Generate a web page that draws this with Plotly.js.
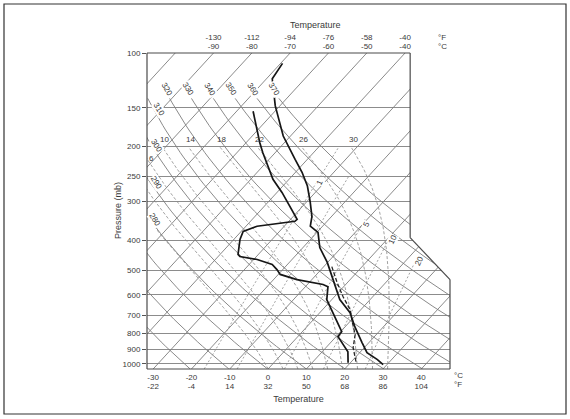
<!DOCTYPE html>
<html>
<head>
<meta charset="utf-8">
<script src="https://cdn.plot.ly/plotly-3.0.1.min.js"></script>
<style>
  html, body { margin: 0; padding: 0; background: #fff; }
  #chart { width: 570px; height: 419px; }
</style>
</head>
<body>
<div id="chart"></div>
<script>
// ---- Diagram reference values ----
const pressureLevels = [100, 150, 200, 250, 300, 400, 500, 600, 700, 800, 900, 1000];
const bottomTempsC = [-30, -20, -10, 0, 10, 20, 30, 40];
const bottomTempsF = ['-22', '-4', '14', '32', '50', '68', '86', '104'];
const topTempsC = [-90, -80, -70, -60, -50, -40];
const topTempsF = ['-130', '-112', '-94', '-76', '-58', '-40'];
const isothermValues = [-130, -120, -110, -100, -90, -80, -70, -60, -50, -40, -30, -20, -10, 0, 10, 20, 30, 40];
const dryAdiabatValues = [250, 260, 270, 280, 290, 300, 310, 320, 330, 340, 350, 360, 370];
const dryAdiabatLabels = [280, 290, 300, 310, 320, 330, 340, 350, 360, 370];
const moistAdiabatValues = [-2, 2, 6, 10, 14, 18, 22, 26, 30];
const moistAdiabatLabels = [6, 10, 14, 18, 22, 26, 30];
const mixingRatioValues = [1, 2, 5, 10, 20];
const mixingRatioLabels = [1, 5, 10, 20];

// ---- Sounding: temperature (°C) against pressure (mb) ----
const tempPressure = [108, 121, 148, 185, 220, 242, 268, 302, 336, 361, 378, 423, 472, 498, 560, 622, 685, 760, 855, 921, 970, 1007];
const tempValues   = [-69.5, -68.5, -61.2, -51.9, -43.2, -38.3, -33.6, -29.0, -25.1, -23.2, -19.7, -15.6, -10.1, -7.7, -2.5, 2.1, 7.9, 12.5, 18.2, 21.9, 26.3, 29.0];

// ---- Sounding: dew point (°C) against pressure (mb) ----
const dewPressure = [154, 176, 194, 209, 232, 255, 281, 314, 343, 348, 361, 375, 398, 445, 452, 462, 479, 498, 516, 536, 556, 565, 622, 685, 789, 818, 915, 993];
const dewValues   = [-65.7, -60.4, -56.5, -53.3, -48.6, -44.2, -38.7, -33.0, -28.3, -28.4, -37.1, -39.5, -38.4, -35.3, -34.3, -29.1, -24.0, -21.5, -19.5, -13.9, -5.9, -4.1, -1.3, 3.4, 10.3, 10.5, 16.7, 19.4];

// ---- Lower-level dashed curve (°C) against pressure (mb) ----
const dashPressure = [487, 548, 608, 670, 732, 806, 888, 985];
const dashValues   = [-7.9, -2.7, 2.2, 7.2, 10.6, 14.5, 17.1, 21.2];

// ---- Skew-T geometry ----
const P_BOTTOM = 1040, P_TOP = 100;
const SKEW = 74.5;                 // isotherm shift (°C) per decade of pressure
const X_MIN = -31.6, X_MAX = 47.5; // skewed axis range at the bottom edge
const NOTCH_X = 37.1, NOTCH_P1 = 393, NOTCH_P2 = 536;

const skewX = (t, p) => t + SKEW * Math.log10(P_BOTTOM / p);
const logRange = (p0, p1, n) => Array.from({length: n + 1}, (_, i) => Math.pow(10, Math.log10(p0) + (Math.log10(p1) - Math.log10(p0)) * i / n));

const RD = 287.04, CP = 1005.7, LV = 2.501e6, EPS = 0.622;
const satVap = tc => 6.112 * Math.exp(17.67 * tc / (tc + 243.5));

function dryAdiabat(theta, pEnd) {
  const ps = logRange(P_BOTTOM, pEnd, 60);
  return {x: ps.map(p => skewX(theta * Math.pow(p / 1000, RD / CP) - 273.15, p)), y: ps};
}

function moistAdiabat(thw, pEnd) {
  const f = (T, p) => {
    const e = satVap(T - 273.15), rs = EPS * e / (p - e);
    return (RD * T + LV * rs) / (CP + LV * LV * rs * EPS / (RD * T * T));
  };
  const run = (p0, T0, p1, n) => {
    let lnp = Math.log(p0), T = T0;
    const h = (Math.log(p1) - lnp) / n, out = [[T, p0]];
    for (let i = 0; i < n; i++) {
      const k1 = f(T, Math.exp(lnp));
      const k2 = f(T + h / 2 * k1, Math.exp(lnp + h / 2));
      const k3 = f(T + h / 2 * k2, Math.exp(lnp + h / 2));
      const k4 = f(T + h * k3, Math.exp(lnp + h));
      T += h / 6 * (k1 + 2 * k2 + 2 * k3 + k4);
      lnp += h;
      out.push([T, Math.exp(lnp)]);
    }
    return out;
  };
  const down = run(1000, thw + 273.15, P_BOTTOM, 4).reverse();
  const up = run(1000, thw + 273.15, pEnd, 120).slice(1);
  const pts = down.concat(up);
  return {x: pts.map(([T, p]) => skewX(T - 273.15, p)), y: pts.map(d => d[1])};
}

function mixingRatioT(w, p) {
  const e = p * w / (622 + w), l = Math.log(e / 6.112);
  return 243.5 * l / (17.67 - l);
}
function mixingRatioLine(w, pEnd) {
  const ps = logRange(P_BOTTOM, pEnd, 40);
  return {x: ps.map(p => skewX(mixingRatioT(w, p), p)), y: ps};
}

const GRID = '#7d7d7d';
const TEXT = '#3a3a3a';
const FONT = 'Liberation Sans, Arial, sans-serif';
const traces = [];

// isotherms
isothermValues.forEach(t => traces.push({
  x: [skewX(t, P_BOTTOM), skewX(t, P_TOP)], y: [P_BOTTOM, P_TOP],
  mode: 'lines', line: {color: GRID, width: 0.9}, hoverinfo: 'skip'
}));
// dry adiabats
dryAdiabatValues.forEach(th => {
  const d = dryAdiabat(th, 140);
  traces.push({x: d.x, y: d.y, mode: 'lines', line: {color: GRID, width: 0.9}, hoverinfo: 'skip'});
});
// saturated adiabats
const moistLines = {};
moistAdiabatValues.forEach(thw => {
  const d = moistAdiabat(thw, 200);
  moistLines[thw] = d;
  traces.push({x: d.x, y: d.y, mode: 'lines', line: {color: '#8a8a8a', width: 0.8, dash: '3px,2px'}, hoverinfo: 'skip'});
});
// mixing ratio lines
const mixTop = {1: 200, 2: 250, 5: 340, 10: 390, 20: 470};
mixingRatioValues.forEach(w => {
  const d = mixingRatioLine(w, mixTop[w]);
  traces.push({x: d.x, y: d.y, mode: 'lines', line: {color: '#8a8a8a', width: 0.8, dash: '2px,2px'}, hoverinfo: 'skip'});
});
// blank the cut-away corner of the diagram
traces.push({
  x: [NOTCH_X, NOTCH_X, X_MAX, 60, 60, NOTCH_X],
  y: [80, NOTCH_P1, NOTCH_P2, NOTCH_P2, 80, 80],
  mode: 'lines', fill: 'toself', fillcolor: '#ffffff', line: {color: '#ffffff', width: 0}, hoverinfo: 'skip'
});
// soundings
traces.push({
  x: dashPressure.map((p, i) => skewX(dashValues[i], p)), y: dashPressure,
  mode: 'lines', line: {color: '#262626', width: 1.3, dash: '4px,2px'}, name: 'Dashed curve'
});
traces.push({
  x: tempPressure.map((p, i) => skewX(tempValues[i], p)), y: tempPressure,
  mode: 'lines', line: {color: '#161616', width: 1.7}, name: 'Temperature'
});
traces.push({
  x: dewPressure.map((p, i) => skewX(dewValues[i], p)), y: dewPressure,
  mode: 'lines', line: {color: '#161616', width: 1.7}, name: 'Dew point'
});

// ---- labels on the diagram lines ----
const annotations = [];
const lbl = (x, p, text, angle, extra) => annotations.push(Object.assign({
  x: x, y: Math.log10(p), xref: 'x', yref: 'y', text: text, showarrow: false,
  textangle: angle, font: {family: FONT, size: 8, color: TEXT},
  bgcolor: '#ffffff', borderpad: 0
}, extra || {}));

const dryLabelP = {280: 345, 290: 262, 300: 198, 310: 152};
dryAdiabatLabels.forEach(th => {
  const p = dryLabelP[th] || 131;
  const x = skewX(th * Math.pow(p / 1000, RD / CP) - 273.15, p);
  lbl(x + (th >= 320 ? 0.6 : 1.4), p, String(th), 58);
});
moistAdiabatLabels.forEach(thw => {
  const d = moistLines[thw];
  if (thw === 6) {
    // leaves the left edge below 200 mb
    let k = d.x.findIndex(v => v < X_MIN + 0.5);
    lbl(X_MIN + 1.3, d.y[k] * 0.98, '6', 0, {bgcolor: 'rgba(255,255,255,0)'});
  } else {
    lbl(d.x[d.x.length - 1] + 0.6, 190, String(thw), 0, {bgcolor: 'rgba(255,255,255,0)'});
  }
});
const mixLabelP = {1: 262, 5: 356, 10: 398, 20: 469};
mixingRatioLabels.forEach(w => {
  const p = mixLabelP[w];
  lbl(skewX(mixingRatioT(w, p), p), p, String(w), -65, {xshift: 4});
});

// axis unit and title labels
const paperLbl = (x, y, text, size, angle) => annotations.push({
  x: x, y: y, xref: 'paper', yref: 'paper', text: text, showarrow: false,
  font: {family: FONT, size: size || 8, color: TEXT}, xanchor: 'center', yanchor: 'middle',
  textangle: angle || 0
});
paperLbl((458 - 147) / 303, (369 - 375) / 316, '°C');
paperLbl((458 - 147) / 303, (369 - 384) / 316, '°F');
paperLbl((442 - 147) / 303, (369 - 37.5) / 316, '°F');
paperLbl((442 - 147) / 303, (369 - 47) / 316, '°C');
paperLbl((315 - 147) / 303, (369 - 25) / 316, 'Temperature', 9);
paperLbl((118 - 147) / 303, (369 - 211) / 316, 'Pressure (mb)', 9, -90);

// ---- frame of the diagram (with the cut-away upper-right corner) ----
const fx = x => (x - X_MIN) / (X_MAX - X_MIN);
const fy = p => (Math.log10(P_BOTTOM) - Math.log10(p)) / (Math.log10(P_BOTTOM) - 2);
const frameLine = (x0, y0, x1, y1) => ({
  type: 'line', xref: 'x domain', yref: 'y domain', x0, y0, x1, y1,
  line: {color: '#4a4a4a', width: 1.2}, layer: 'above'
});
const shapes = [
  frameLine(0, 0, 0, 1),
  frameLine(0, 1, fx(NOTCH_X), 1),
  frameLine(fx(NOTCH_X), 1, fx(NOTCH_X), fy(NOTCH_P1)),
  frameLine(fx(NOTCH_X), fy(NOTCH_P1), 1, fy(NOTCH_P2)),
  frameLine(1, fy(NOTCH_P2), 1, 0),
  frameLine(0, 0, 1, 0),
  // outer border of the figure
  {type: 'rect', xref: 'paper', yref: 'paper',
   x0: (4 - 147) / 303, x1: (566 - 147) / 303, y0: (369 - 414) / 316, y1: (369 - 4) / 316,
   line: {color: '#333', width: 1.2}, layer: 'above'}
];

const tickFont = {family: FONT, size: 8, color: TEXT};
const xTop = P => topTempsC.map(t => skewX(t, P));

const layout = {
  width: 570, height: 419,
  margin: {l: 147, r: 120, t: 53, b: 50},
  paper_bgcolor: '#ffffff', plot_bgcolor: '#ffffff',
  showlegend: false,
  xaxis: {
    range: [X_MIN, X_MAX], tickvals: bottomTempsC, ticktext: bottomTempsC.map(String),
    ticks: '', showgrid: false, zeroline: false, showline: false, tickfont: tickFont,
    ticklabelstandoff: 2,
    title: {text: 'Temperature', font: {family: FONT, size: 9, color: TEXT}, standoff: 14}
  },
  xaxis3: {
    overlaying: 'x', anchor: 'y', side: 'bottom', range: [X_MIN, X_MAX],
    tickvals: bottomTempsC, ticktext: bottomTempsF, ticks: '', showgrid: false,
    zeroline: false, showline: false, tickfont: tickFont, ticklabelstandoff: 11
  },
  xaxis2: {
    overlaying: 'x', anchor: 'y', side: 'top', range: [X_MIN, X_MAX],
    tickvals: xTop(P_TOP), ticktext: topTempsC.map(String), ticks: '', showgrid: false,
    zeroline: false, showline: false, tickfont: tickFont, ticklabelstandoff: 1
  },
  xaxis4: {
    overlaying: 'x', anchor: 'y', side: 'top', range: [X_MIN, X_MAX],
    tickvals: xTop(P_TOP), ticktext: topTempsF, ticks: '', showgrid: false,
    zeroline: false, showline: false, tickfont: tickFont, ticklabelstandoff: 10
  },
  yaxis: {
    type: 'log', range: [Math.log10(P_BOTTOM), 2],
    tickvals: pressureLevels, ticktext: pressureLevels.map(String),
    ticks: 'outside', ticklen: 4, tickcolor: '#555', tickfont: tickFont,
    showgrid: true, gridcolor: '#8c8c8c', gridwidth: 1, zeroline: false, showline: false
  },
  annotations: annotations,
  shapes: shapes
};

// placeholder points so the extra temperature axes are drawn
traces.push({x: [X_MIN], y: [P_BOTTOM], xaxis: 'x2', mode: 'markers', marker: {opacity: 0}, hoverinfo: 'skip'});
traces.push({x: [X_MIN], y: [P_BOTTOM], xaxis: 'x3', mode: 'markers', marker: {opacity: 0}, hoverinfo: 'skip'});
traces.push({x: [X_MIN], y: [P_BOTTOM], xaxis: 'x4', mode: 'markers', marker: {opacity: 0}, hoverinfo: 'skip'});

Plotly.newPlot('chart', traces, layout, {staticPlot: true, displayModeBar: false});
</script>
</body>
</html>
